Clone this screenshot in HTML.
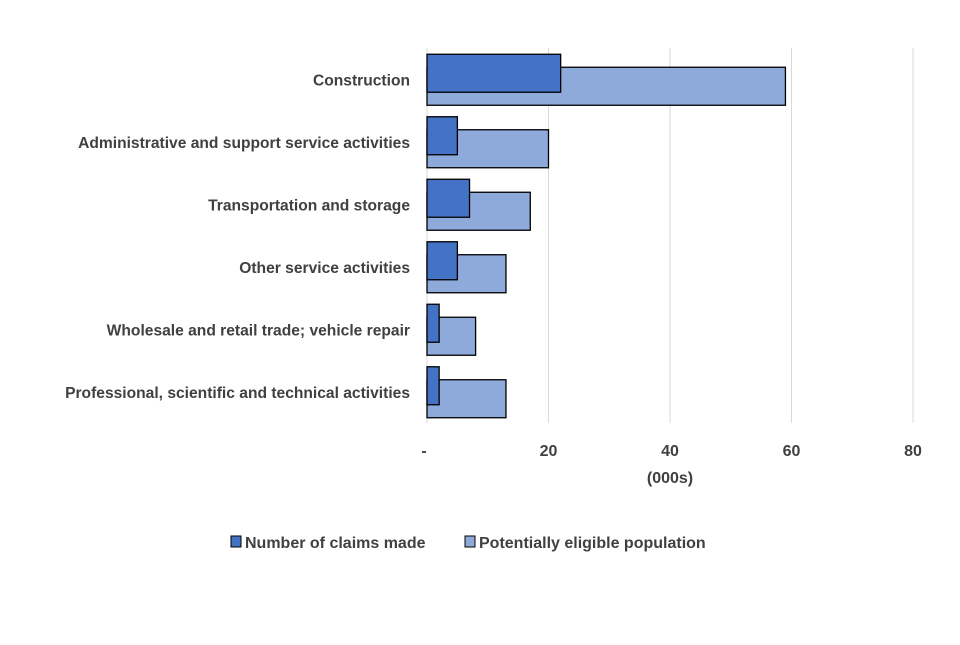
<!DOCTYPE html>
<html><head><meta charset="utf-8"><style>
body{margin:0;background:#fff;width:960px;height:640px;overflow:hidden;font-family:"Liberation Sans",sans-serif}
text{font-family:"Liberation Sans",sans-serif;fill:#404040;font-weight:bold}
</style></head><body>
<svg id="c" width="960" height="640"></svg>
<script>
const categories=["Construction","Administrative and support service activities","Transportation and storage","Other service activities","Wholesale and retail trade; vehicle repair","Professional, scientific and technical activities"];
const claims=[22,5,7,5,2,2];
const eligible=[59,20,17,13,8,13];
const ticks=[0,20,40,60,80];
const tickLabels=["-","20","40","60","80"];
const svg=document.getElementById('c');
const NS="http://www.w3.org/2000/svg";
const x0=427,x1=913,xmax=80,plotTop=48,plotBot=423;
const xs=v=>x0+(x1-x0)*v/xmax;
const band=(plotBot-plotTop)/categories.length;
function mk(t,a,p){const e=document.createElementNS(NS,t);for(const k in a)e.setAttribute(k,a[k]);(p||svg).appendChild(e);return e;}
ticks.forEach((t,i)=>{
 const g=mk('line',{x1:xs(t),x2:xs(t),y1:plotTop,y2:plotBot,stroke:'#d9d9d9','stroke-width':1});
 
 
 const l=mk('text',{x:xs(t)-(i==0?3:0),y:456,'text-anchor':'middle','font-size':16});
 l.textContent=tickLabels[i];
 
 
});
categories.forEach((c,i)=>{
 const cy=plotTop+band*(i+0.5);
 const l=mk('text',{x:410,y:cy+6,'text-anchor':'end','font-size':15.6});
 l.textContent=c;
 
 
 const b2=mk('rect',{x:xs(0),y:cy-12,width:xs(eligible[i])-xs(0),height:38,fill:'#8eaadb',stroke:'#000','stroke-width':1.3});
 
 
 const b1=mk('rect',{x:xs(0),y:cy-25,width:xs(claims[i])-xs(0),height:38,fill:'#4472c4',stroke:'#000','stroke-width':1.3});
 
 
});
const at=mk('text',{x:670,y:483,'text-anchor':'middle','font-size':16});at.textContent="(000s)";


[[231,'#4472c4','Number of claims made'],[465,'#8eaadb','Potentially eligible population']].forEach(([x,f,t])=>{
 const g=mk('g',{});
 
 
 mk('rect',{x:x,y:536,width:10,height:11,fill:f,stroke:'#000','stroke-width':1},g);
 const tx=mk('text',{x:x+14,y:548,'font-size':16},g);tx.textContent=t;
});
</script>
</body></html>
